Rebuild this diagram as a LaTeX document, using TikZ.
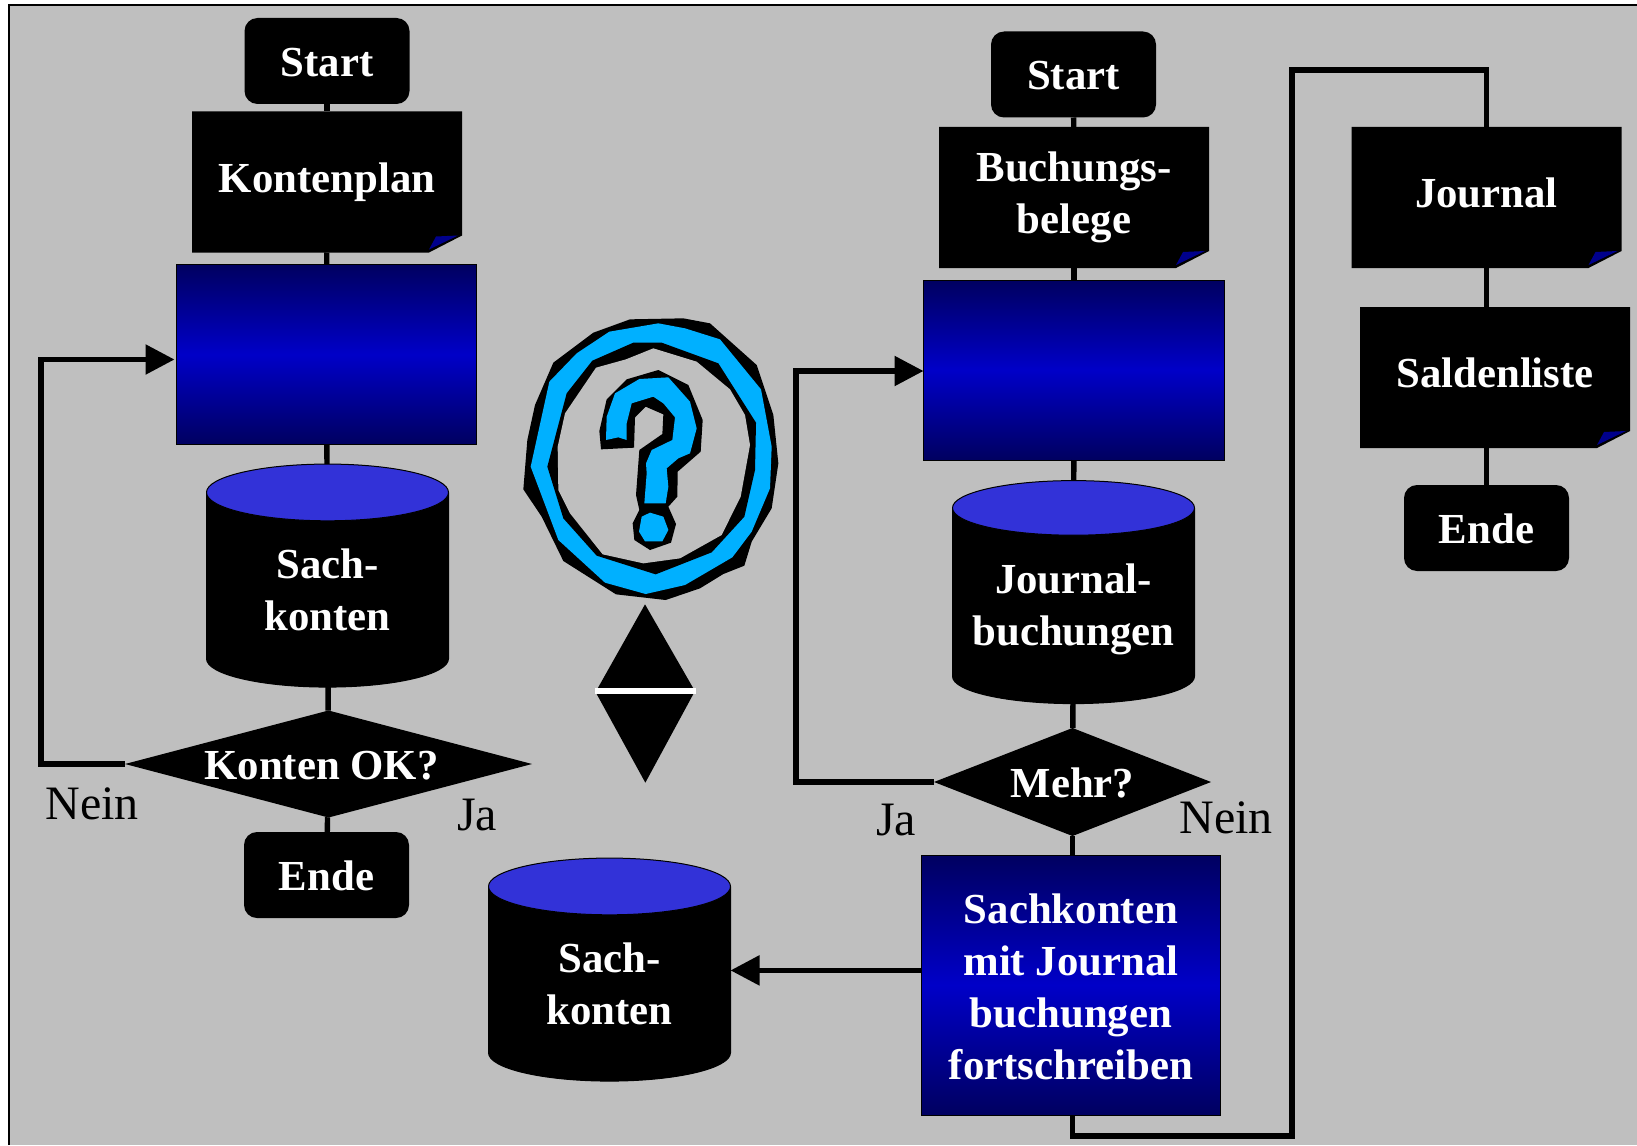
\documentclass[tikz,border=0pt]{standalone}
\usepackage{fontspec}
\setmainfont{Liberation Serif}
\usetikzlibrary{arrows.meta,shapes.geometric}
\definecolor{paneback}{HTML}{BFBFBF}
\definecolor{navy}{HTML}{000060}
\definecolor{royal}{HTML}{0000C8}
\definecolor{foldblue}{HTML}{00008C}
\definecolor{lidblue}{HTML}{3232D8}
\definecolor{ringblue}{HTML}{00B0FF}
\begin{document}
\begin{tikzpicture}[x=0.5pt, y=-0.5pt,
  every node/.style={inner sep=0pt, outer sep=0pt, align=center, text=white,
                     font=\fontsize{21.4}{25.9}\selectfont\bfseries},
  link/.style={line width=2.7pt, draw=black},
  flowarrow/.style={link, -{Triangle[length=14.5pt,width=14.5pt]}},
  terminal/.style={rectangle, fill=black, rounded corners=6.5pt, text height=15.5pt, text depth=0pt,
                   minimum width=82.5pt, minimum height=43pt},
  paper/.style={rectangle, minimum width=135pt, minimum height=70.5pt, text depth=4.5pt,
                path picture={
                  \fill[black] (path picture bounding box.north west)
                    -- (path picture bounding box.north east)
                    -- ([yshift=8.5pt]path picture bounding box.south east)
                    -- ([xshift=-16.5pt]path picture bounding box.south east)
                    -- (path picture bounding box.south west) -- cycle;
                  \fill[foldblue] (path picture bounding box.south east) ++(-33,-3)
                    -- ++(7,-13) -- ++(22,-1) -- cycle;}},
  shaded box/.style={rectangle, draw=black, line width=0.5pt, top color=navy,
                     bottom color=navy, middle color=royal},
  store/.style={cylinder, shape border rotate=90, aspect=0.45,
                cylinder uses custom fill, cylinder body fill=black,
                cylinder end fill=lidblue, draw=black, line width=0.5pt,
                minimum width=121pt, minimum height=111.5pt},
  decision/.style={diamond, fill=black, text height=15.5pt, text depth=0pt},
  answer/.style={text=black, font=\fontsize{24}{28}\selectfont},
  ]
\useasboundingbox (0,0) rectangle (1637,1145);
\fill[white] (0,0) rectangle (1637,1145);
\fill[paneback] (9,5) rectangle (1637,1145);
\draw[line width=1pt] (9,1145) -- (9,5) -- (1637,5);

% left column
\node[terminal] (startA) at (327,61) {Start};
\node[paper] (kontenplan) at (327,182) {Kontenplan};
\node[shaded box, minimum width=150pt, minimum height=90pt] (eingabeA) at (326.5,354.5) {};
\node[store] (sachA) at (327.5,590) {Sach-\\konten};
\node[decision, aspect=3.8, minimum width=203.5pt, minimum height=53.5pt] (kontenOK) at (328.5,764) {Konten OK?\hspace{7pt}};
\node[terminal] (endeA) at (326.5,875) {Ende};

% middle
\node[store] (sachB) at (609.5,984) {Sach-\\konten};
\begin{scope}[shift={(500,300)}, x=0.16667pt, y=-0.16667pt]
\fill[black] (390,58) -- (550,55) -- (630,70) -- (770,195) -- (820,345) -- (835,490) -- (815,625)
  -- (755,725) -- (733,797) -- (670,822) -- (600,865) -- (497,900) -- (348,883) -- (190,783)
  -- (125,650) -- (70,568) -- (82,420) -- (105,315) -- (160,188) -- (280,98) -- cycle;
\fill[ringblue] (475,70) -- (555,85) -- (660,118) -- (783,268) -- (815,440) -- (810,565) -- (755,695)
  -- (697,772) -- (555,855) -- (437,882) -- (315,848) -- (175,720) -- (92,500) -- (148,245)
  -- (230,160) -- (328,95) -- cycle;
\fill[black] (400,128) -- (485,128) -- (655,190) -- (768,368) -- (765,510) -- (733,650) -- (635,757)
  -- (467,823) -- (290,767) -- (190,655) -- (142,500) -- (200,280) -- (277,182) -- cycle;
\fill[paneback] (460,145) -- (590,185) -- (690,268) -- (735,345) -- (750,435) -- (722,590) -- (665,705)
  -- (540,775) -- (430,790) -- (308,763) -- (210,640) -- (175,570) -- (173,440) -- (195,340)
  -- (288,203) -- (378,178) -- cycle;
\fill[black] (475,210) -- (565,255) -- (608,360) -- (602,455) -- (533,515) -- (532,590) -- (505,620)
  -- (528,672) -- (513,728) -- (450,750) -- (403,720) -- (398,670) -- (418,630) -- (408,585)
  -- (418,450) -- (487,402) -- (490,343) -- (437,320) -- (405,352) -- (402,443) -- (303,448)
  -- (298,393) -- (320,298) -- (380,238) -- cycle;
\fill[ringblue] (505,232) -- (570,305) -- (590,385) -- (570,460) -- (535,475) -- (500,505) -- (505,560)
  -- (497,610) -- (433,610) -- (440,520) -- (438,490) -- (455,450) -- (517,420) -- (525,352)
  -- (490,310) -- (460,290) -- (395,310) -- (380,370) -- (380,420) -- (355,412) -- (318,420)
  -- (320,350) -- (345,280) -- (418,237) -- cycle;
\fill[ringblue] (450,638) -- (490,650) -- (505,690) -- (487,724) -- (435,724) -- (417,695) -- (425,650) -- cycle;
\fill[black] (435,913) -- (580,1165) -- (293,1165) -- cycle;
\fill[black] (290,1182) -- (580,1182) -- (436,1448) -- cycle;
\fill[white] (285,1163) rectangle (588,1182);
\end{scope}

% right column
\node[terminal] (startB) at (1073.5,74.5) {Start};
\node[paper] (belege) at (1074,197.5) {Buchungs-\\belege};
\node[shaded box, minimum width=150.5pt, minimum height=90pt] (eingabeB) at (1074,370) {};
\node[store, aspect=0.27] (journalbuch) at (1073.5,606) {\rule{0pt}{18pt}Journal-\\buchungen};
\node[decision, aspect=2.56, minimum width=138.5pt, minimum height=54pt] (mehr) at (1072.5,782) {Mehr?};
\node[shaded box, minimum width=149.5pt, minimum height=130pt] (fortschreiben) at (1071,985)
  {\rule{0pt}{16.7pt}Sachkonten\\mit Journal\\buchungen\\fortschreiben};

% far right
\node[paper] (journal) at (1486.5,197.5) {Journal};
\node[paper] (saldenliste) at (1495,377.5) {Saldenliste};
\node[terminal] (endeB) at (1486.5,528) {Ende};

\node[answer] (neinA) at (92,804) {Nein};
\node[answer] (jaA) at (477,815) {Ja};
\node[answer] (jaB) at (896,820) {Ja};
\node[answer] (neinB) at (1226,818) {Nein};

% connectors
\draw[link] (startA) -- (kontenplan);
\draw[link] (kontenplan) -- (eingabeA);
\draw[link] (eingabeA) -- (sachA);
\draw[link] (sachA) -- (kontenOK);
\draw[link] (kontenOK) -- (endeA);
\draw[flowarrow] (kontenOK.west) -- ++(-84,0) |- ([xshift=-1pt,yshift=-2.5pt]eingabeA.west);
\draw[link] (startB) -- (belege);
\draw[link] (belege) -- (eingabeB);
\draw[link] (eingabeB) -- (journalbuch);
\draw[link] (journalbuch) -- (mehr);
\draw[link] (mehr.south) -- (mehr.south |- fortschreiben.north);
\draw[flowarrow] (mehr.west) -- ++(-138,0) |- ([yshift=-0.5pt]eingabeB.west);
\draw[flowarrow] ([yshift=6.8pt]sachB.east -| fortschreiben.west) -- ([yshift=6.8pt]sachB.east);
\draw[link] (fortschreiben.south -| mehr.south) -- ++(0,21) -| (1292,70) -| (journal.north);
\draw[link] (journal.south) -- (journal.south |- saldenliste.north);
\draw[link] (endeB.north |- saldenliste.south) -- (endeB.north);
\end{tikzpicture}
\end{document}
